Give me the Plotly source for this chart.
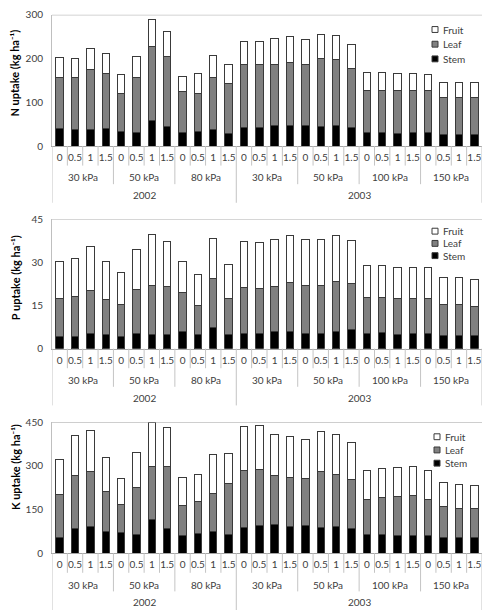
import plotly.graph_objects as go

# ---------------- data ----------------
levels = ["0", "0.5", "1", "1.5"]
groups = ["30 kPa", "50 kPa", "80 kPa", "30 kPa", "50 kPa", "100 kPa", "150 kPa"]
group_year = ["2002", "2002", "2002", "2003", "2003", "2003", "2003"]
years = ["2002", "2003"]
tick_labels = levels * len(groups)

N_stem = [40, 37, 37, 41, 34, 32, 58, 44, 31, 34, 37, 28,
          43, 43, 46, 46, 46, 44, 47, 43, 31, 31, 28, 30, 31, 27, 27, 27]
N_leaf = [117, 119, 137, 124, 87, 124, 169, 160, 94, 87, 120, 114,
          143, 144, 141, 144, 140, 155, 150, 134, 96, 96, 99, 97, 95, 84, 85, 84]
N_fruit = [45, 45, 50, 46, 42, 48, 63, 58, 35, 44, 49, 45,
           54, 53, 58, 60, 58, 57, 56, 55, 42, 42, 38, 38, 37, 34, 34, 34]

P_stem = [4.4, 4.4, 5.3, 4.9, 4.3, 5.1, 4.9, 4.9, 5.9, 5.0, 7.5, 4.8,
          5.2, 5.4, 5.9, 6.1, 5.4, 5.1, 5.9, 6.6, 5.3, 5.5, 5.0, 5.1, 5.3, 4.6, 4.6, 4.5]
P_leaf = [12.9, 13.6, 15.1, 12.1, 11.0, 15.6, 17.2, 16.8, 13.6, 9.9, 16.9, 12.5,
          16.0, 15.4, 15.7, 16.8, 16.7, 17.0, 17.6, 16.0, 12.5, 12.4, 12.4, 12.2, 12.1, 10.8, 10.8, 10.3]
P_fruit = [13.2, 13.4, 15.2, 13.5, 11.1, 13.9, 17.6, 15.6, 10.7, 11.0, 13.9, 11.9,
           16.0, 16.1, 16.3, 16.6, 15.9, 15.9, 15.8, 15.0, 11.0, 11.1, 10.8, 10.9, 10.9, 9.5, 9.3, 9.3]

K_stem = [55, 85, 90, 74, 71, 63, 117, 85, 60, 69, 74, 65,
          88, 94, 97, 90, 94, 89, 92, 85, 63, 63, 60, 61, 61, 55, 54, 53]
K_leaf = [146, 180, 192, 138, 97, 162, 181, 213, 104, 110, 132, 174,
          197, 194, 171, 170, 162, 190, 177, 167, 120, 128, 134, 137, 124, 104, 101, 100]
K_fruit = [121, 138, 140, 117, 89, 119, 150, 135, 97, 92, 133, 104,
           149, 149, 139, 140, 134, 137, 137, 128, 102, 100, 101, 98, 100, 84, 82, 79]

panels = [
    dict(name="N", stem=N_stem, leaf=N_leaf, fruit=N_fruit, ymax=300, dtick=100),
    dict(name="P", stem=P_stem, leaf=P_leaf, fruit=P_fruit, ymax=45, dtick=15),
    dict(name="K", stem=K_stem, leaf=K_leaf, fruit=K_fruit, ymax=450, dtick=150),
]

# ---------------- layout geometry (pixels) ----------------
W, H = 485, 616
plot_left, plot_right = 52, 482
panel_px = [(8, 142), (217, 349), (424, 558)]   # (top, bottom) of each plot area
title_center_px = [68, 277, 470]
legend_px = [(435, 23, 15), (435, 229, 12.5), (437, 439, 13.5)]  # x, first y, step

FONT = "Lato, Liberation Sans, Arial"
TXT = "#404040"
SEP = "#c4c4c4"

def py(p):
    return 1 - p / H

def px(p):
    return p / W

x = list(range(len(tick_labels)))

fig = go.Figure()
layout = dict(
    width=W, height=H, margin=dict(l=0, r=0, t=0, b=0),
    paper_bgcolor="white", plot_bgcolor="white",
    barmode="stack", bargap=0.52, showlegend=False,
    font=dict(family=FONT, size=10, color=TXT),
)
shapes, annotations = [], []

series_style = [
    ("Stem", "stem", "#000000"),
    ("Leaf", "leaf", "#808080"),
    ("Fruit", "fruit", "#ffffff"),
]

for i, pnl in enumerate(panels):
    k = "" if i == 0 else str(i + 1)
    xa, ya = "x" + k, "y" + k
    for label, key, color in series_style:
        fig.add_trace(go.Bar(
            x=x, y=pnl[key], name=label, xaxis=xa, yaxis=ya,
            marker=dict(color=color, line=dict(color="#3a3a3a", width=1)),
            showlegend=False,
        ))
    top, bot = panel_px[i]
    layout["xaxis" + k] = dict(
        domain=[px(plot_left), px(plot_right)], anchor=ya,
        range=[-0.5, len(x) - 0.5], tickmode="array", tickvals=x,
        ticktext=tick_labels, ticks="", showline=True, linecolor="#a6a6a6",
        linewidth=1, showgrid=False, zeroline=False, fixedrange=True,
        tickfont=dict(family=FONT, size=10, color=TXT), ticklabelstandoff=2,
    )
    layout["yaxis" + k] = dict(
        domain=[py(bot), py(top)], anchor=xa,
        range=[0, pnl["ymax"]], tickmode="linear", tick0=0, dtick=pnl["dtick"],
        ticks="outside", ticklen=6, tickcolor="rgba(0,0,0,0)",
        showline=True, linecolor="#bfbfbf", linewidth=1,
        showgrid=False, zeroline=False, fixedrange=True,
        tickfont=dict(family=FONT, size=10, color=TXT),
    )
    # top border line at axis maximum
    shapes.append(dict(type="line", xref=xa + " domain", yref=ya,
                       x0=0, x1=1, y0=pnl["ymax"], y1=pnl["ymax"],
                       line=dict(color="#a6a6a6", width=1)))
    # multi-level category separators
    n = len(x)
    for b in range(n + 1):
        xb = b - 0.5
        if b == 0 or b == n or b == 12:
            depth = 58
        elif b % 4 == 0:
            depth = 39
        else:
            depth = 20
        shapes.append(dict(type="line", xref=xa, yref="paper",
                           x0=xb, x1=xb, y0=py(bot), y1=py(bot + depth),
                           line=dict(color=SEP, width=1)))
    # group labels
    for g, gname in enumerate(groups):
        annotations.append(dict(xref=xa, yref="paper", x=g * 4 + 1.5,
                                y=py(bot + 32), text=gname, showarrow=False,
                                font=dict(family=FONT, size=10, color=TXT),
                                xanchor="center", yanchor="middle"))
    # year labels
    for yr in years:
        idx = [g for g, gy in enumerate(group_year) if gy == yr]
        cx = (idx[0] * 4 + idx[-1] * 4 + 3) / 2
        annotations.append(dict(xref=xa, yref="paper", x=cx,
                                y=py(bot + 50), text=yr, showarrow=False,
                                font=dict(family=FONT, size=10, color=TXT),
                                xanchor="center", yanchor="middle"))
    # y-axis title
    annotations.append(dict(xref="paper", yref="paper", x=px(15),
                            y=py(title_center_px[i]),
                            text="%s uptake (kg ha\u207b\u00b9)" % pnl["name"],
                            textangle=-90, showarrow=False,
                            font=dict(family=FONT, size=11, color="#000000",
                                      weight="bold"),
                            xanchor="center", yanchor="middle"))
    # legend (drawn manually: Fruit, Leaf, Stem)
    lx, ly, step = legend_px[i]
    for j, (label, key, color) in enumerate(reversed(series_style)):
        yc = ly + j * step
        shapes.append(dict(type="rect", xref="paper", yref="paper",
                           x0=px(lx - 3), x1=px(lx + 3), y0=py(yc + 3), y1=py(yc - 3),
                           fillcolor=color, line=dict(color="#3a3a3a", width=1)))
        annotations.append(dict(xref="paper", yref="paper", x=px(lx + 6), y=py(yc),
                                text=label, showarrow=False, xanchor="left",
                                yanchor="middle",
                                font=dict(family=FONT, size=10, color=TXT)))

layout["shapes"] = shapes
layout["annotations"] = annotations
fig.update_layout(**layout)
fig.write_html("out.html")
